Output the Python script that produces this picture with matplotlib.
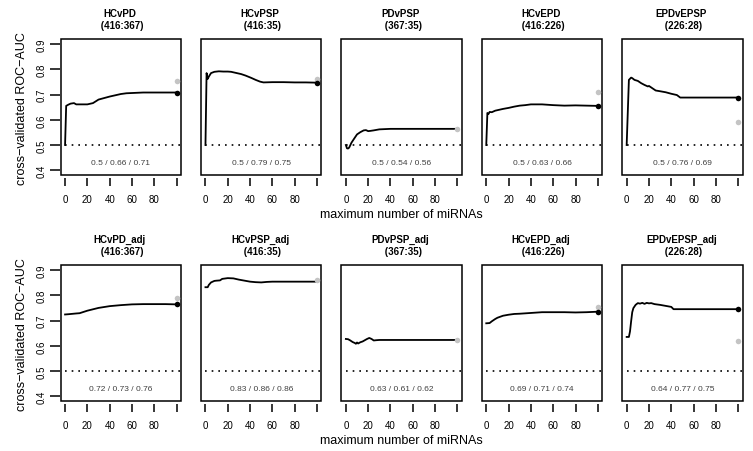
import matplotlib
matplotlib.use("Agg")
import matplotlib.pyplot as plt
from matplotlib.patches import Rectangle

plt.rcParams['font.family'] = ['Liberation Sans', 'DejaVu Sans']

# panel names and group sizes
titles = ["HCvPD", "HCvPSP", "PDvPSP", "HCvEPD", "EPDvEPSP",
          "HCvPD_adj", "HCvPSP_adj", "PDvPSP_adj", "HCvEPD_adj", "EPDvEPSP_adj"]
sizes = ["(416:367)", "(416:35)", "(367:35)", "(416:226)", "(226:28)"] * 2
notes = ["0.5 / 0.66 / 0.71", "0.5 / 0.79 / 0.75", "0.5 / 0.54 / 0.56",
         "0.5 / 0.63 / 0.66", "0.5 / 0.76 / 0.69",
         "0.72 / 0.73 / 0.76", "0.83 / 0.86 / 0.86", "0.63 / 0.61 / 0.62",
         "0.69 / 0.71 / 0.74", "0.64 / 0.77 / 0.75"]

# end points at x=100 (grey = other estimate, black = final of curve)
grey_end = [0.755, 0.762, 0.564, 0.709, 0.590, 0.790, 0.860, 0.623, 0.753, 0.618]
black_end = [0.708, 0.747, None, 0.655, 0.688, 0.764, None, None, 0.733, 0.745]

# curves
hcvpd_x = [0, 1, 3, 5, 8, 10, 15, 20, 25, 30, 35, 40, 45, 50, 55, 60, 70, 80, 90, 100]
hcvpd_y = [0.50, 0.655, 0.660, 0.664, 0.666, 0.661, 0.661, 0.661, 0.666, 0.680, 0.686,
           0.692, 0.697, 0.702, 0.705, 0.706, 0.708, 0.708, 0.708, 0.708]
hcvpsp_x = [0, 1, 2, 3, 5, 8, 12, 16, 20, 23, 28, 32, 36, 41, 45, 49, 52, 60, 70, 80, 90, 100]
hcvpsp_y = [0.50, 0.785, 0.762, 0.771, 0.785, 0.790, 0.792, 0.791, 0.791, 0.790, 0.785,
            0.781, 0.775, 0.766, 0.758, 0.751, 0.748, 0.749, 0.749, 0.748, 0.748, 0.747]
pdvpsp_x = [0, 1, 2, 3, 5, 8, 10, 13, 16, 18, 20, 22, 25, 30, 40, 50, 100]
pdvpsp_y = [0.50, 0.487, 0.486, 0.490, 0.509, 0.529, 0.542, 0.551, 0.558, 0.559, 0.555,
            0.556, 0.558, 0.562, 0.564, 0.564, 0.564]
hcvepd_x = [0, 1, 2, 3, 5, 8, 12, 15, 20, 25, 30, 35, 40, 50, 60, 70, 80, 90, 100]
hcvepd_y = [0.50, 0.627, 0.623, 0.631, 0.630, 0.636, 0.640, 0.643, 0.647, 0.652, 0.656,
            0.658, 0.661, 0.661, 0.658, 0.656, 0.657, 0.656, 0.655]
epdvepsp_x = [0, 2, 4, 5, 7, 10, 13, 16, 19, 20, 23, 26, 30, 35, 40, 45, 48, 60, 80, 100]
epdvepsp_y = [0.50, 0.758, 0.767, 0.765, 0.758, 0.754, 0.745, 0.738, 0.732, 0.734, 0.725,
              0.716, 0.713, 0.709, 0.703, 0.698, 0.688, 0.688, 0.688, 0.688]
hcvpd_adj_x = [0, 3, 10, 13, 20, 30, 40, 50, 60, 70, 80, 90, 100]
hcvpd_adj_y = [0.724, 0.725, 0.728, 0.729, 0.739, 0.750, 0.757, 0.761, 0.764, 0.765,
               0.765, 0.765, 0.764]
hcvpsp_adj_x = [0, 2, 3, 5, 8, 10, 13, 15, 20, 25, 30, 35, 40, 45, 50, 55, 60, 80, 100]
hcvpsp_adj_y = [0.832, 0.832, 0.841, 0.851, 0.857, 0.858, 0.859, 0.865, 0.868, 0.867,
                0.862, 0.858, 0.854, 0.852, 0.851, 0.853, 0.854, 0.854, 0.854]
pdvpsp_adj_x = [0, 2, 4, 6, 8, 9, 10, 11, 13, 15, 17, 19, 21, 23, 25, 27, 30, 50, 100]
pdvpsp_adj_y = [0.627, 0.626, 0.621, 0.615, 0.611, 0.608, 0.613, 0.609, 0.614, 0.617,
                0.622, 0.627, 0.631, 0.627, 0.621, 0.622, 0.623, 0.623, 0.623]
hcvepd_adj_x = [0, 3, 5, 8, 10, 15, 20, 25, 30, 40, 50, 60, 70, 80, 90, 100]
hcvepd_adj_y = [0.689, 0.690, 0.697, 0.706, 0.711, 0.719, 0.723, 0.726, 0.727, 0.730,
                0.733, 0.733, 0.733, 0.732, 0.733, 0.735]
epdvepsp_adj_x = [0, 2, 3, 4, 5, 6, 8, 10, 12, 14, 16, 18, 20, 22, 25, 30, 35, 40, 42,
                  60, 80, 100]
epdvepsp_adj_y = [0.635, 0.635, 0.657, 0.697, 0.733, 0.749, 0.762, 0.769, 0.767, 0.770,
                  0.766, 0.770, 0.768, 0.769, 0.765, 0.762, 0.758, 0.754, 0.745, 0.745,
                  0.745, 0.745]

curves = [(hcvpd_x, hcvpd_y), (hcvpsp_x, hcvpsp_y), (pdvpsp_x, pdvpsp_y),
          (hcvepd_x, hcvepd_y), (epdvepsp_x, epdvepsp_y),
          (hcvpd_adj_x, hcvpd_adj_y), (hcvpsp_adj_x, hcvpsp_adj_y),
          (pdvpsp_adj_x, pdvpsp_adj_y), (hcvepd_adj_x, hcvepd_adj_y),
          (epdvepsp_adj_x, epdvepsp_adj_y)]

W, H = 753, 452
fig = plt.figure(figsize=(W / 100, H / 100), dpi=100)

box_w, box_h = 120.5, 136.3
tops = [40, 266]

for i in range(10):
    row, col = i // 5, i % 5
    left = 60.6 + 140.4 * col
    top = tops[row]
    ax = fig.add_axes([left / W, 1 - (top + box_h) / H, box_w / W, box_h / H])
    ax.set_xlim(-4, 104)
    ax.set_ylim(0.38, 0.92)
    for s in ax.spines.values():
        s.set_visible(False)
    ax.spines['bottom'].set_position(('outward', 1.9))
    ax.spines['left'].set_position(('outward', 0.4))
    ax.add_patch(Rectangle((0, 0), 1, 1, transform=ax.transAxes, fill=False,
                           lw=1.1, ec='black', clip_on=False, zorder=5))

    ax.set_xticks([0, 20, 40, 60, 80, 100])
    ax.set_xticklabels(['0', '20', '40', '60', '80', ''])
    ax.tick_params(axis='x', length=6, width=1.1, pad=5.5, labelsize=7)
    if col == 0:
        ax.set_yticks([0.4, 0.5, 0.6, 0.7, 0.8, 0.9])
        ax.set_yticklabels(['0.4', '0.5', '0.6', '0.7', '0.8', '0.9'])
        ax.tick_params(axis='y', length=7.3, width=1.1, pad=2.4, labelsize=7,
                       labelrotation=90)
        for lab in ax.get_yticklabels():
            lab.set_va('center')
    else:
        ax.set_yticks([])

    cx, cy = curves[i]
    ax.plot([0, 104], [0.5, 0.5], color='black', lw=1.2, linestyle=(0, (1, 3)))
    ax.plot(cx, cy, color='black', lw=1.3, solid_joinstyle='round')
    ax.plot(100, grey_end[i], 'o', color='#c4c4c4', ms=4, mec='none',
            clip_on=False, zorder=6)
    if black_end[i] is not None:
        ax.plot(100, black_end[i], 'o', color='black', ms=4, mec='none',
                clip_on=False, zorder=7)
    ax.text(50, 0.43, notes[i], ha='center', va='center', fontsize=6, color='#404040')

    ax.annotate(titles[i], xy=(0.5, 1), xycoords='axes fraction', xytext=(-0.8, 18.6),
                textcoords='offset points', ha='center', va='center',
                fontsize=7, fontweight='bold')
    ax.annotate(" " + sizes[i], xy=(0.5, 1), xycoords='axes fraction', xytext=(0, 10.3),
                textcoords='offset points', ha='center', va='center',
                fontsize=7, fontweight='bold')

for top, base in zip(tops, [218, 444]):
    fig.text(22.5 / W, 1 - (top + box_h / 2) / H, "cross\u2212validated ROC\u2212AUC",
             rotation=90, ha='center', va='center', fontsize=9)
    fig.text(401.5 / W, 1 - base / H, "maximum number of miRNAs",
             ha='center', va='baseline', fontsize=9)

fig.savefig("out.png", dpi=100)
